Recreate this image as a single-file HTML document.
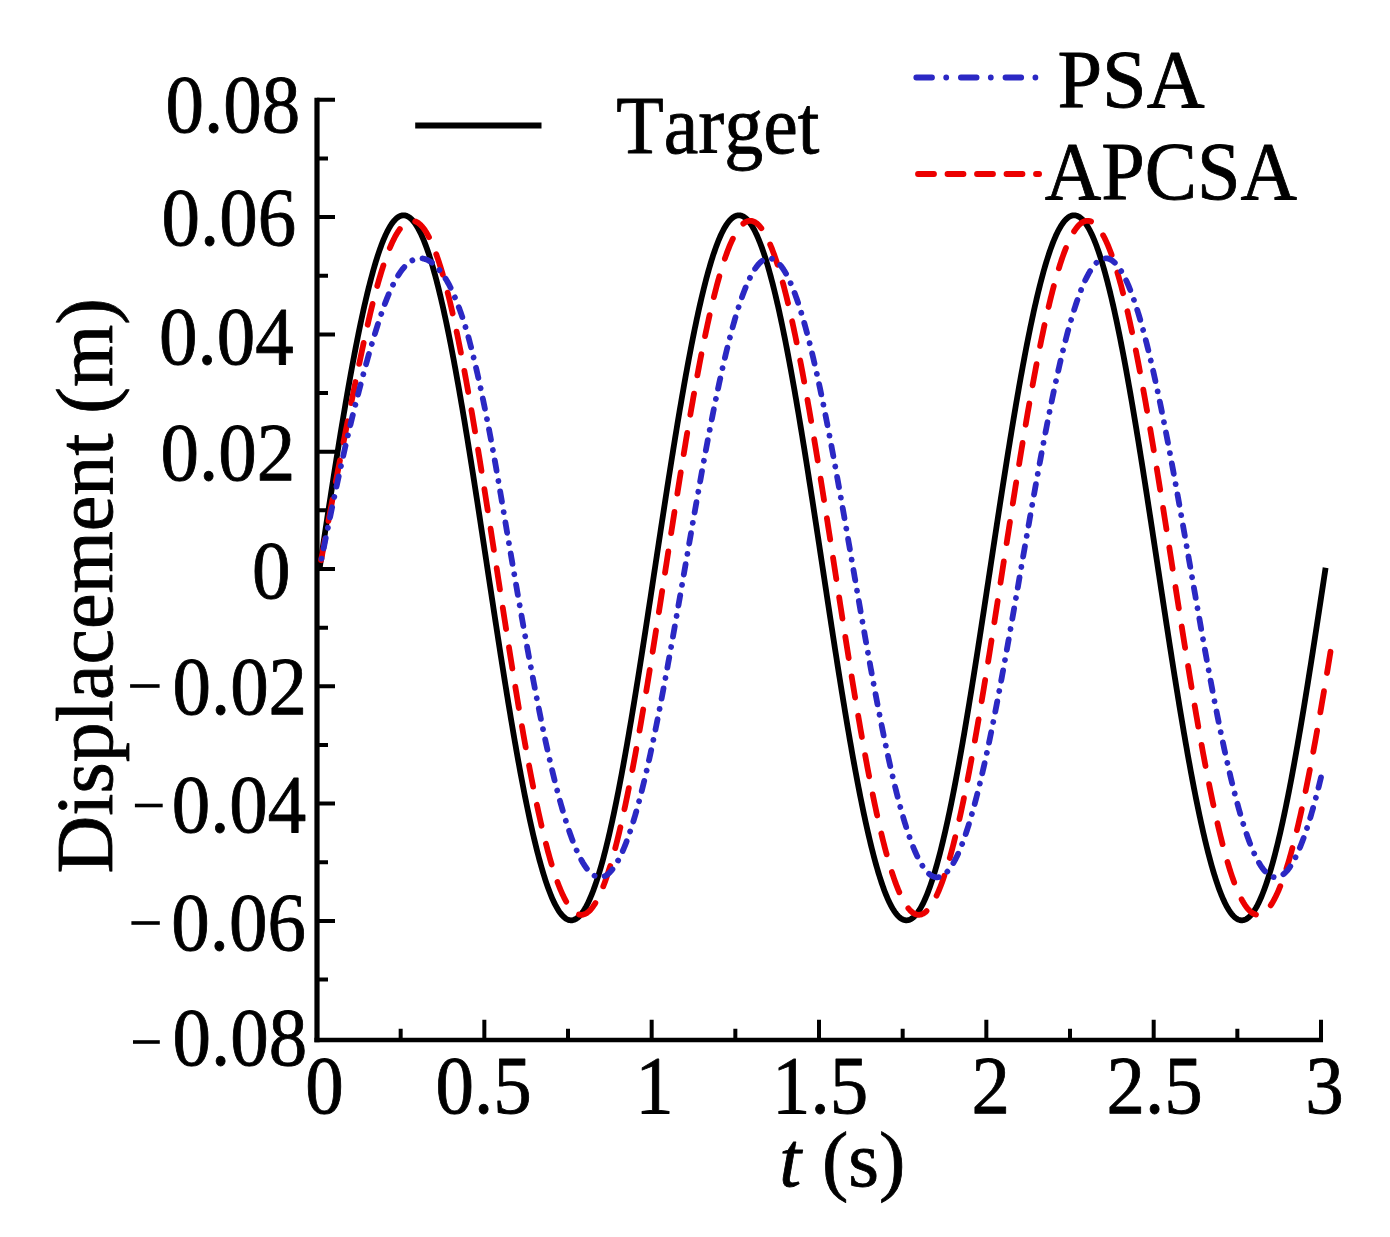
<!DOCTYPE html>
<html><head><meta charset="utf-8"><title>Displacement chart</title>
<style>
html,body{margin:0;padding:0;background:#fff;}
svg{display:block;}
#wrap{width:1390px;height:1237px;}
text{font-family:"Liberation Serif",serif;fill:#000;font-kerning:none;stroke:#000;stroke-width:0.8px;stroke-linejoin:round;}
</style></head><body>
<div id="wrap"><svg width="1390" height="1237" viewBox="0 0 1390 1237">
<rect width="1390" height="1237" fill="#fff"/>
<path d="M317.00,97.80 V1042.35" fill="none" stroke="#000" stroke-width="5.2"/>
<path d="M314.40,1040.10 H1323.01" fill="none" stroke="#000" stroke-width="4.5"/>
<path d="M317.00,99.80H335.00 M317.00,158.45H328.00 M317.00,217.10H335.00 M317.00,275.75H328.00 M317.00,334.40H335.00 M317.00,393.05H328.00 M317.00,451.70H335.00 M317.00,510.35H328.00 M317.00,569.00H335.00 M317.00,627.65H328.00 M317.00,686.30H335.00 M317.00,744.95H328.00 M317.00,803.60H335.00 M317.00,862.25H328.00 M317.00,920.90H335.00 M317.00,979.55H328.00 M400.67,1040.10V1028.75 M484.34,1040.10V1019.70 M568.00,1040.10V1028.75 M651.67,1040.10V1019.70 M735.34,1040.10V1028.75 M819.00,1040.10V1019.70 M902.67,1040.10V1028.75 M986.34,1040.10V1019.70 M1070.01,1040.10V1028.75 M1153.68,1040.10V1019.70 M1237.34,1040.10V1028.75 M1321.01,1040.10V1019.70" fill="none" stroke="#000" stroke-width="4.0"/>
<path d="M319.70,567.80L320.37,563.37 321.04,558.94 321.71,554.51 322.38,550.08 323.06,545.65 323.73,541.23 324.40,536.81 325.07,532.40 325.74,527.99 326.41,523.59 327.08,519.20 327.75,514.81 328.42,510.43 329.09,506.06 329.77,501.70 330.44,497.36 331.11,493.02 331.78,488.69 332.45,484.38 333.12,480.08 333.79,475.79 334.46,471.52 335.13,467.27 335.81,463.03 336.48,458.80 337.15,454.59 337.82,450.41 338.49,446.24 339.16,442.08 339.83,437.95 340.50,433.84 341.17,429.75 341.84,425.69 342.52,421.64 343.19,417.62 343.86,413.62 344.53,409.65 345.20,405.70 345.87,401.78 346.54,397.88 347.21,394.01 347.88,390.17 348.56,386.35 349.23,382.57 349.90,378.81 350.57,375.08 351.24,371.39 351.91,367.72 352.58,364.09 353.25,360.49 353.92,356.92 354.59,353.38 355.27,349.88 355.94,346.41 356.61,342.98 357.28,339.59 357.95,336.23 358.62,332.90 359.29,329.62 359.96,326.37 360.63,323.16 361.30,319.99 361.98,316.85 362.65,313.76 363.32,310.71 363.99,307.69 364.66,304.72 365.33,301.79 366.00,298.91 366.67,296.06 367.34,293.26 368.02,290.50 368.69,287.79 369.36,285.12 370.03,282.49 370.70,279.91 371.37,277.38 372.04,274.89 372.71,272.44 373.38,270.05 374.05,267.70 374.73,265.40 375.40,263.14 376.07,260.94 376.74,258.78 377.41,256.67 378.08,254.61 378.75,252.60 379.42,250.64 380.09,248.74 380.77,246.88 381.44,245.07 382.11,243.31 382.78,241.60 383.45,239.95 384.12,238.35 384.79,236.80 385.46,235.30 386.13,233.85 386.80,232.46 387.48,231.12 388.15,229.84 388.82,228.60 389.49,227.42 390.16,226.30 390.83,225.23 391.50,224.21 392.17,223.25 392.84,222.34 393.52,221.48 394.19,220.68 394.86,219.94 395.53,219.25 396.20,218.62 396.87,218.04 397.54,217.51 398.21,217.05 398.88,216.63 399.55,216.28 400.23,215.97 400.90,215.73 401.57,215.54 402.24,215.40 402.91,215.32 403.58,215.30 404.25,215.33 404.92,215.42 405.59,215.56 406.27,215.76 406.94,216.02 407.61,216.33 408.28,216.70 408.95,217.12 409.62,217.60 410.29,218.13 410.96,218.72 411.63,219.36 412.30,220.06 412.98,220.81 413.65,221.62 414.32,222.48 414.99,223.40 415.66,224.37 416.33,225.40 417.00,226.48 417.67,227.62 418.34,228.80 419.02,230.05 419.69,231.34 420.36,232.69 421.03,234.09 421.70,235.55 422.37,237.05 423.04,238.61 423.71,240.22 424.38,241.89 425.05,243.60 425.73,245.37 426.40,247.18 427.07,249.05 427.74,250.97 428.41,252.94 429.08,254.95 429.75,257.02 430.42,259.14 431.09,261.30 431.76,263.52 432.44,265.78 433.11,268.09 433.78,270.44 434.45,272.85 435.12,275.30 435.79,277.80 436.46,280.34 437.13,282.93 437.80,285.56 438.48,288.24 439.15,290.96 439.82,293.72 440.49,296.53 441.16,299.39 441.83,302.28 442.50,305.22 443.17,308.19 443.84,311.21 444.51,314.27 445.19,317.37 445.86,320.51 446.53,323.69 447.20,326.91 447.87,330.16 448.54,333.45 449.21,336.78 449.88,340.15 450.55,343.55 451.23,346.99 451.90,350.46 452.57,353.97 453.24,357.51 453.91,361.08 454.58,364.69 455.25,368.33 455.92,372.00 456.59,375.70 457.26,379.43 457.94,383.19 458.61,386.98 459.28,390.80 459.95,394.65 460.62,398.53 461.29,402.43 461.96,406.35 462.63,410.31 463.30,414.29 463.98,418.29 464.65,422.31 465.32,426.36 465.99,430.43 466.66,434.53 467.33,438.64 468.00,442.78 468.67,446.93 469.34,451.10 470.01,455.29 470.69,459.50 471.36,463.73 472.03,467.97 472.70,472.23 473.37,476.51 474.04,480.80 474.71,485.10 475.38,489.41 476.05,493.74 476.73,498.08 477.40,502.43 478.07,506.79 478.74,511.16 479.41,515.54 480.08,519.93 480.75,524.32 481.42,528.73 482.09,533.13 482.76,537.55 483.44,541.97 484.11,546.39 484.78,550.81 485.45,555.24 486.12,559.67 486.79,564.11 487.46,568.54 488.13,572.97 488.80,577.40 489.47,581.83 490.15,586.26 490.82,590.69 491.49,595.11 492.16,599.52 492.83,603.94 493.50,608.34 494.17,612.74 494.84,617.13 495.51,621.52 496.19,625.90 496.86,630.26 497.53,634.62 498.20,638.97 498.87,643.30 499.54,647.63 500.21,651.94 500.88,656.24 501.55,660.52 502.22,664.79 502.90,669.04 503.57,673.28 504.24,677.50 504.91,681.70 505.58,685.89 506.25,690.06 506.92,694.21 507.59,698.33 508.26,702.44 508.94,706.53 509.61,710.59 510.28,714.63 510.95,718.65 511.62,722.64 512.29,726.61 512.96,730.56 513.63,734.48 514.30,738.37 514.97,742.23 515.65,746.07 516.32,749.88 516.99,753.66 517.66,757.41 518.33,761.14 519.00,764.83 519.67,768.49 520.34,772.12 521.01,775.71 521.69,779.27 522.36,782.80 523.03,786.30 523.70,789.76 524.37,793.19 525.04,796.58 525.71,799.93 526.38,803.25 527.05,806.53 527.72,809.77 528.40,812.97 529.07,816.14 529.74,819.27 530.41,822.35 531.08,825.40 531.75,828.40 532.42,831.37 533.09,834.29 533.76,837.17 534.44,840.01 535.11,842.80 535.78,845.55 536.45,848.26 537.12,850.92 537.79,853.54 538.46,856.11 539.13,858.64 539.80,861.12 540.47,863.56 541.15,865.95 541.82,868.29 542.49,870.58 543.16,872.83 543.83,875.02 544.50,877.17 545.17,879.27 545.84,881.32 546.51,883.33 547.19,885.28 547.86,887.18 548.53,889.03 549.20,890.83 549.87,892.58 550.54,894.27 551.21,895.92 551.88,897.51 552.55,899.06 553.22,900.55 553.90,901.98 554.57,903.37 555.24,904.70 555.91,905.97 556.58,907.20 557.25,908.37 557.92,909.48 558.59,910.55 559.26,911.56 559.93,912.51 560.61,913.41 561.28,914.25 561.95,915.04 562.62,915.78 563.29,916.46 563.96,917.08 564.63,917.65 565.30,918.17 565.97,918.63 566.65,919.03 567.32,919.38 567.99,919.67 568.66,919.91 569.33,920.09 570.00,920.21 570.67,920.28 571.34,920.30 572.01,920.26 572.68,920.16 573.36,920.01 574.03,919.80 574.70,919.53 575.37,919.21 576.04,918.84 576.71,918.40 577.38,917.92 578.05,917.38 578.72,916.78 579.40,916.13 580.07,915.42 580.74,914.66 581.41,913.84 582.08,912.97 582.75,912.04 583.42,911.06 584.09,910.02 584.76,908.93 585.43,907.79 586.11,906.59 586.78,905.34 587.45,904.04 588.12,902.68 588.79,901.27 589.46,899.81 590.13,898.29 590.80,896.72 591.47,895.10 592.15,893.43 592.82,891.71 593.49,889.93 594.16,888.11 594.83,886.23 595.50,884.31 596.17,882.33 596.84,880.31 597.51,878.23 598.18,876.11 598.86,873.93 599.53,871.71 600.20,869.44 600.87,867.12 601.54,864.76 602.21,862.35 602.88,859.89 603.55,857.38 604.22,854.83 604.90,852.24 605.57,849.60 606.24,846.91 606.91,844.18 607.58,841.41 608.25,838.59 608.92,835.74 609.59,832.83 610.26,829.89 610.93,826.91 611.61,823.88 612.28,820.81 612.95,817.71 613.62,814.56 614.29,811.38 614.96,808.15 615.63,804.89 616.30,801.59 616.97,798.26 617.65,794.89 618.32,791.48 618.99,788.03 619.66,784.56 620.33,781.04 621.00,777.50 621.67,773.92 622.34,770.30 623.01,766.66 623.68,762.99 624.36,759.28 625.03,755.54 625.70,751.78 626.37,747.98 627.04,744.16 627.71,740.30 628.38,736.43 629.05,732.52 629.72,728.59 630.39,724.63 631.07,720.65 631.74,716.64 632.41,712.61 633.08,708.56 633.75,704.49 634.42,700.39 635.09,696.27 635.76,692.13 636.43,687.98 637.11,683.80 637.78,679.61 638.45,675.39 639.12,671.16 639.79,666.92 640.46,662.66 641.13,658.38 641.80,654.09 642.47,649.78 643.14,645.47 643.82,641.14 644.49,636.80 645.16,632.44 645.83,628.08 646.50,623.71 647.17,619.33 647.84,614.94 648.51,610.54 649.18,606.14 649.86,601.73 650.53,597.32 651.20,592.90 651.87,588.47 652.54,584.05 653.21,579.62 653.88,575.19 654.55,570.76 655.22,566.32 655.89,561.89 656.57,557.46 657.24,553.03 657.91,548.60 658.58,544.18 659.25,539.76 659.92,535.34 660.59,530.93 661.26,526.52 661.93,522.13 662.61,517.73 663.28,513.35 663.95,508.98 664.62,504.61 665.29,500.25 665.96,495.91 666.63,491.58 667.30,487.25 667.97,482.94 668.64,478.65 669.32,474.37 669.99,470.10 670.66,465.85 671.33,461.62 672.00,457.40 672.67,453.20 673.34,449.01 674.01,444.85 674.68,440.71 675.36,436.58 676.03,432.48 676.70,428.40 677.37,424.34 678.04,420.30 678.71,416.28 679.38,412.29 680.05,408.33 680.72,404.39 681.39,400.47 682.07,396.59 682.74,392.72 683.41,388.89 684.08,385.09 684.75,381.31 685.42,377.56 686.09,373.85 686.76,370.16 687.43,366.51 688.11,362.88 688.78,359.29 689.45,355.74 690.12,352.21 690.79,348.72 691.46,345.27 692.13,341.85 692.80,338.46 693.47,335.11 694.14,331.80 694.82,328.53 695.49,325.29 696.16,322.10 696.83,318.94 697.50,315.82 698.17,312.74 698.84,309.70 699.51,306.70 700.18,303.74 700.85,300.83 701.53,297.95 702.20,295.12 702.87,292.34 703.54,289.59 704.21,286.89 704.88,284.24 705.55,281.63 706.22,279.06 706.89,276.54 707.57,274.07 708.24,271.64 708.91,269.26 709.58,266.93 710.25,264.64 710.92,262.40 711.59,260.21 712.26,258.07 712.93,255.98 713.60,253.94 714.28,251.95 714.95,250.00 715.62,248.11 716.29,246.27 716.96,244.48 717.63,242.74 718.30,241.05 718.97,239.41 719.64,237.83 720.32,236.29 720.99,234.81 721.66,233.38 722.33,232.01 723.00,230.69 723.67,229.42 724.34,228.20 725.01,227.04 725.68,225.93 726.35,224.88 727.03,223.88 727.70,222.94 728.37,222.05 729.04,221.21 729.71,220.43 730.38,219.70 731.05,219.03 731.72,218.42 732.39,217.86 733.07,217.35 733.74,216.90 734.41,216.51 735.08,216.17 735.75,215.89 736.42,215.66 737.09,215.49 737.76,215.37 738.43,215.31 739.10,215.30 739.78,215.36 740.45,215.46 741.12,215.63 741.79,215.84 742.46,216.12 743.13,216.45 743.80,216.83 744.47,217.27 745.14,217.77 745.82,218.32 746.49,218.93 747.16,219.59 747.83,220.30 748.50,221.08 749.17,221.90 749.84,222.78 750.51,223.72 751.18,224.71 751.85,225.75 752.53,226.85 753.20,228.01 753.87,229.21 754.54,230.47 755.21,231.78 755.88,233.15 756.55,234.57 757.22,236.04 757.89,237.57 758.56,239.14 759.24,240.77 759.91,242.45 760.58,244.18 761.25,245.97 761.92,247.80 762.59,249.68 763.26,251.62 763.93,253.60 764.60,255.64 765.28,257.72 765.95,259.85 766.62,262.03 767.29,264.26 767.96,266.54 768.63,268.87 769.30,271.24 769.97,273.66 770.64,276.13 771.31,278.64 771.99,281.20 772.66,283.80 773.33,286.45 774.00,289.14 774.67,291.88 775.34,294.66 776.01,297.48 776.68,300.35 777.35,303.25 778.03,306.20 778.70,309.20 779.37,312.23 780.04,315.30 780.71,318.41 781.38,321.57 782.05,324.76 782.72,327.99 783.39,331.26 784.06,334.56 784.74,337.90 785.41,341.28 786.08,344.69 786.75,348.14 787.42,351.63 788.09,355.15 788.76,358.70 789.43,362.28 790.10,365.90 790.78,369.55 791.45,373.23 792.12,376.94 792.79,380.68 793.46,384.45 794.13,388.25 794.80,392.08 795.47,395.94 796.14,399.82 796.81,403.73 797.49,407.67 798.16,411.63 798.83,415.62 799.50,419.63 800.17,423.66 800.84,427.72 801.51,431.80 802.18,435.90 802.85,440.02 803.53,444.16 804.20,448.32 804.87,452.50 805.54,456.70 806.21,460.91 806.88,465.14 807.55,469.39 808.22,473.66 808.89,477.93 809.56,482.23 810.24,486.53 810.91,490.85 811.58,495.19 812.25,499.53 812.92,503.88 813.59,508.25 814.26,512.62 814.93,517.00 815.60,521.39 816.28,525.79 816.95,530.19 817.62,534.60 818.29,539.02 818.96,543.44 819.63,547.86 820.30,552.29 820.97,556.72 821.64,561.15 822.31,565.58 822.99,570.02 823.66,574.45 824.33,578.88 825.00,583.31 825.67,587.74 826.34,592.16 827.01,596.58 827.68,601.00 828.35,605.41 829.02,609.81 829.70,614.21 830.37,618.60 831.04,622.98 831.71,627.35 832.38,631.72 833.05,636.07 833.72,640.41 834.39,644.75 835.06,649.07 835.74,653.37 836.41,657.67 837.08,661.94 837.75,666.21 838.42,670.46 839.09,674.69 839.76,678.90 840.43,683.10 841.10,687.28 841.77,691.44 842.45,695.58 843.12,699.70 843.79,703.80 844.46,707.88 845.13,711.94 845.80,715.97 846.47,719.98 847.14,723.97 847.81,727.93 848.49,731.87 849.16,735.78 849.83,739.66 850.50,743.52 851.17,747.35 851.84,751.15 852.51,754.92 853.18,758.66 853.85,762.37 854.52,766.05 855.20,769.70 855.87,773.32 856.54,776.90 857.21,780.45 857.88,783.97 858.55,787.46 859.22,790.91 859.89,794.32 860.56,797.70 861.24,801.04 861.91,804.34 862.58,807.61 863.25,810.84 863.92,814.03 864.59,817.19 865.26,820.30 865.93,823.37 866.60,826.40 867.27,829.40 867.95,832.35 868.62,835.25 869.29,838.12 869.96,840.94 870.63,843.72 871.30,846.46 871.97,849.15 872.64,851.80 873.31,854.40 873.99,856.96 874.66,859.47 875.33,861.94 876.00,864.36 876.67,866.73 877.34,869.06 878.01,871.34 878.68,873.57 879.35,875.75 880.02,877.88 880.70,879.96 881.37,882.00 882.04,883.98 882.71,885.92 883.38,887.80 884.05,889.63 884.72,891.42 885.39,893.15 886.06,894.83 886.74,896.46 887.41,898.03 888.08,899.56 888.75,901.03 889.42,902.45 890.09,903.82 890.76,905.13 891.43,906.39 892.10,907.59 892.77,908.75 893.45,909.85 894.12,910.89 894.79,911.88 895.46,912.82 896.13,913.70 896.80,914.52 897.47,915.30 898.14,916.01 898.81,916.67 899.48,917.28 900.16,917.83 900.83,918.33 901.50,918.77 902.17,919.15 902.84,919.48 903.51,919.76 904.18,919.97 904.85,920.14 905.52,920.24 906.20,920.30 906.87,920.29 907.54,920.23 908.21,920.11 908.88,919.94 909.55,919.71 910.22,919.43 910.89,919.09 911.56,918.70 912.23,918.25 912.91,917.74 913.58,917.18 914.25,916.57 914.92,915.90 915.59,915.17 916.26,914.39 916.93,913.55 917.60,912.66 918.27,911.72 918.95,910.72 919.62,909.67 920.29,908.56 920.96,907.40 921.63,906.18 922.30,904.91 922.97,903.59 923.64,902.22 924.31,900.79 924.98,899.31 925.66,897.77 926.33,896.19 927.00,894.55 927.67,892.86 928.34,891.12 929.01,889.33 929.68,887.49 930.35,885.60 931.02,883.65 931.70,881.66 932.37,879.62 933.04,877.53 933.71,875.39 934.38,873.20 935.05,870.96 935.72,868.67 936.39,866.34 937.06,863.96 937.73,861.53 938.41,859.06 939.08,856.54 939.75,853.97 940.42,851.36 941.09,848.71 941.76,846.01 942.43,843.26 943.10,840.48 943.77,837.65 944.45,834.77 945.12,831.86 945.79,828.90 946.46,825.90 947.13,822.86 947.80,819.78 948.47,816.66 949.14,813.50 949.81,810.31 950.48,807.07 951.16,803.80 951.83,800.49 952.50,797.14 953.17,793.75 953.84,790.33 954.51,786.88 955.18,783.39 955.85,779.86 956.52,776.31 957.19,772.72 957.87,769.09 958.54,765.44 959.21,761.75 959.88,758.04 960.55,754.29 961.22,750.51 961.89,746.71 962.56,742.88 963.23,739.01 963.91,735.13 964.58,731.21 965.25,727.27 965.92,723.31 966.59,719.32 967.26,715.30 967.93,711.26 968.60,707.20 969.27,703.12 969.94,699.02 970.62,694.89 971.29,690.75 971.96,686.59 972.63,682.40 973.30,678.20 973.97,673.98 974.64,669.75 975.31,665.50 975.98,661.23 976.66,656.95 977.33,652.66 978.00,648.35 978.67,644.02 979.34,639.69 980.01,635.35 980.68,630.99 981.35,626.62 982.02,622.25 982.69,617.87 983.37,613.47 984.04,609.08 984.71,604.67 985.38,600.26 986.05,595.84 986.72,591.42 987.39,587.00 988.06,582.57 988.73,578.14 989.41,573.71 990.08,569.28 990.75,564.84 991.42,560.41 992.09,555.98 992.76,551.55 993.43,547.13 994.10,542.70 994.77,538.28 995.44,533.87 996.12,529.46 996.79,525.06 997.46,520.66 998.13,516.27 998.80,511.89 999.47,507.52 1000.14,503.16 1000.81,498.80 1001.48,494.46 1002.16,490.13 1002.83,485.82 1003.50,481.51 1004.17,477.22 1004.84,472.94 1005.51,468.68 1006.18,464.44 1006.85,460.21 1007.52,455.99 1008.19,451.80 1008.87,447.62 1009.54,443.47 1010.21,439.33 1010.88,435.21 1011.55,431.11 1012.22,427.04 1012.89,422.99 1013.56,418.96 1014.23,414.95 1014.91,410.97 1015.58,407.01 1016.25,403.08 1016.92,399.17 1017.59,395.30 1018.26,391.44 1018.93,387.62 1019.60,383.82 1020.27,380.06 1020.94,376.32 1021.62,372.61 1022.29,368.94 1022.96,365.30 1023.63,361.68 1024.30,358.10 1024.97,354.56 1025.64,351.04 1026.31,347.57 1026.98,344.12 1027.65,340.71 1028.33,337.34 1029.00,334.01 1029.67,330.71 1030.34,327.45 1031.01,324.22 1031.68,321.04 1032.35,317.89 1033.02,314.79 1033.69,311.72 1034.37,308.69 1035.04,305.71 1035.71,302.77 1036.38,299.86 1037.05,297.01 1037.72,294.19 1038.39,291.42 1039.06,288.69 1039.73,286.00 1040.40,283.36 1041.08,280.77 1041.75,278.22 1042.42,275.71 1043.09,273.25 1043.76,270.84 1044.43,268.48 1045.10,266.16 1045.77,263.89 1046.44,261.67 1047.12,259.49 1047.79,257.37 1048.46,255.29 1049.13,253.27 1049.80,251.29 1050.47,249.37 1051.14,247.49 1051.81,245.67 1052.48,243.89 1053.15,242.17 1053.83,240.50 1054.50,238.88 1055.17,237.31 1055.84,235.79 1056.51,234.33 1057.18,232.92 1057.85,231.56 1058.52,230.26 1059.19,229.01 1059.87,227.81 1060.54,226.67 1061.21,225.58 1061.88,224.54 1062.55,223.56 1063.22,222.63 1063.89,221.76 1064.56,220.94 1065.23,220.18 1065.90,219.47 1066.58,218.82 1067.25,218.22 1067.92,217.68 1068.59,217.20 1069.26,216.76 1069.93,216.39 1070.60,216.07 1071.27,215.80 1071.94,215.59 1072.62,215.44 1073.29,215.34 1073.96,215.30 1074.63,215.32 1075.30,215.39 1075.97,215.51 1076.64,215.69 1077.31,215.93 1077.98,216.22 1078.65,216.57 1079.33,216.97 1080.00,217.43 1080.67,217.95 1081.34,218.52 1082.01,219.14 1082.68,219.82 1083.35,220.56 1084.02,221.35 1084.69,222.19 1085.37,223.09 1086.04,224.04 1086.71,225.05 1087.38,226.12 1088.05,227.23 1088.72,228.40 1089.39,229.63 1090.06,230.90 1090.73,232.23 1091.40,233.62 1092.08,235.05 1092.75,236.54 1093.42,238.09 1094.09,239.68 1094.76,241.33 1095.43,243.02 1096.10,244.77 1096.77,246.57 1097.44,248.42 1098.11,250.32 1098.79,252.27 1099.46,254.28 1100.13,256.33 1100.80,258.43 1101.47,260.58 1102.14,262.77 1102.81,265.02 1103.48,267.31 1104.15,269.65 1104.83,272.04 1105.50,274.48 1106.17,276.96 1106.84,279.49 1107.51,282.06 1108.18,284.68 1108.85,287.34 1109.52,290.05 1110.19,292.80 1110.86,295.59 1111.54,298.43 1112.21,301.31 1112.88,304.23 1113.55,307.20 1114.22,310.20 1114.89,313.25 1115.56,316.33 1116.23,319.46 1116.90,322.63 1117.58,325.83 1118.25,329.07 1118.92,332.35 1119.59,335.67 1120.26,339.02 1120.93,342.41 1121.60,345.84 1122.27,349.30 1122.94,352.80 1123.61,356.33 1124.29,359.89 1124.96,363.48 1125.63,367.11 1126.30,370.77 1126.97,374.46 1127.64,378.19 1128.31,381.94 1128.98,385.72 1129.65,389.53 1130.33,393.37 1131.00,397.23 1131.67,401.12 1132.34,405.04 1133.01,408.99 1133.68,412.96 1134.35,416.95 1135.02,420.97 1135.69,425.01 1136.36,429.07 1137.04,433.16 1137.71,437.27 1138.38,441.39 1139.05,445.54 1139.72,449.71 1140.39,453.90 1141.06,458.10 1141.73,462.32 1142.40,466.56 1143.08,470.81 1143.75,475.08 1144.42,479.36 1145.09,483.66 1145.76,487.97 1146.43,492.30 1147.10,496.63 1147.77,500.98 1148.44,505.34 1149.11,509.70 1149.79,514.08 1150.46,518.47 1151.13,522.86 1151.80,527.26 1152.47,531.66 1153.14,536.08 1153.81,540.49 1154.48,544.91 1155.15,549.34 1155.83,553.77 1156.50,558.20 1157.17,562.63 1157.84,567.06 1158.51,571.49 1159.18,575.93 1159.85,580.36 1160.52,584.79 1161.19,589.21 1161.86,593.63 1162.54,598.05 1163.21,602.47 1163.88,606.87 1164.55,611.28 1165.22,615.67 1165.89,620.06 1166.56,624.44 1167.23,628.81 1167.90,633.17 1168.57,637.52 1169.25,641.86 1169.92,646.19 1170.59,650.50 1171.26,654.80 1171.93,659.09 1172.60,663.37 1173.27,667.63 1173.94,671.87 1174.61,676.10 1175.29,680.31 1175.96,684.50 1176.63,688.67 1177.30,692.82 1177.97,696.96 1178.64,701.07 1179.31,705.17 1179.98,709.24 1180.65,713.29 1181.32,717.31 1182.00,721.31 1182.67,725.29 1183.34,729.25 1184.01,733.17 1184.68,737.07 1185.35,740.95 1186.02,744.80 1186.69,748.62 1187.36,752.41 1188.04,756.17 1188.71,759.90 1189.38,763.60 1190.05,767.27 1190.72,770.91 1191.39,774.52 1192.06,778.09 1192.73,781.63 1193.40,785.14 1194.07,788.61 1194.75,792.05 1195.42,795.45 1196.09,798.82 1196.76,802.15 1197.43,805.44 1198.10,808.69 1198.77,811.91 1199.44,815.09 1200.11,818.23 1200.79,821.33 1201.46,824.39 1202.13,827.41 1202.80,830.38 1203.47,833.32 1204.14,836.21 1204.81,839.07 1205.48,841.88 1206.15,844.64 1206.82,847.36 1207.50,850.04 1208.17,852.67 1208.84,855.26 1209.51,857.80 1210.18,860.30 1210.85,862.75 1211.52,865.16 1212.19,867.51 1212.86,869.82 1213.54,872.08 1214.21,874.30 1214.88,876.46 1215.55,878.58 1216.22,880.65 1216.89,882.66 1217.56,884.63 1218.23,886.55 1218.90,888.42 1219.57,890.23 1220.25,892.00 1220.92,893.71 1221.59,895.38 1222.26,896.99 1222.93,898.55 1223.60,900.05 1224.27,901.51 1224.94,902.91 1225.61,904.26 1226.28,905.55 1226.96,906.80 1227.63,907.98 1228.30,909.12 1228.97,910.20 1229.64,911.23 1230.31,912.20 1230.98,913.12 1231.65,913.98 1232.32,914.79 1233.00,915.54 1233.67,916.24 1234.34,916.88 1235.01,917.47 1235.68,918.00 1236.35,918.48 1237.02,918.90 1237.69,919.27 1238.36,919.58 1239.03,919.84 1239.71,920.04 1240.38,920.18 1241.05,920.27 1241.72,920.30 1242.39,920.28 1243.06,920.20 1243.73,920.06 1244.40,919.87 1245.07,919.63 1245.75,919.32 1246.42,918.97 1247.09,918.55 1247.76,918.09 1248.43,917.56 1249.10,916.98 1249.77,916.35 1250.44,915.66 1251.11,914.92 1251.78,914.12 1252.46,913.26 1253.13,912.35 1253.80,911.39 1254.47,910.37 1255.14,909.30 1255.81,908.18 1256.48,907.00 1257.15,905.76 1257.82,904.48 1258.50,903.14 1259.17,901.75 1259.84,900.30 1260.51,898.80 1261.18,897.25 1261.85,895.65 1262.52,894.00 1263.19,892.29 1263.86,890.53 1264.53,888.72 1265.21,886.86 1265.88,884.96 1266.55,883.00 1267.22,880.99 1267.89,878.93 1268.56,876.82 1269.23,874.66 1269.90,872.46 1270.57,870.20 1271.25,867.90 1271.92,865.55 1272.59,863.16 1273.26,860.71 1273.93,858.22 1274.60,855.69 1275.27,853.11 1275.94,850.48 1276.61,847.81 1277.28,845.10 1277.96,842.34 1278.63,839.54 1279.30,836.69 1279.97,833.81 1280.64,830.88 1281.31,827.91 1281.98,824.89 1282.65,821.84 1283.32,818.75 1284.00,815.61 1284.67,812.44 1285.34,809.23 1286.01,805.98 1286.68,802.70 1287.35,799.37 1288.02,796.01 1288.69,792.62 1289.36,789.19 1290.03,785.72 1290.71,782.22 1291.38,778.68 1292.05,775.11 1292.72,771.51 1293.39,767.88 1294.06,764.21 1294.73,760.52 1295.40,756.79 1296.07,753.03 1296.74,749.25 1297.42,745.43 1298.09,741.59 1298.76,737.72 1299.43,733.82 1300.10,729.90 1300.77,725.95 1301.44,721.98 1302.11,717.98 1302.78,713.96 1303.46,709.91 1304.13,705.85 1304.80,701.76 1305.47,697.65 1306.14,693.52 1306.81,689.36 1307.48,685.19 1308.15,681.01 1308.82,676.80 1309.49,672.57 1310.17,668.33 1310.84,664.08 1311.51,659.81 1312.18,655.52 1312.85,651.22 1313.52,646.91 1314.19,642.58 1314.86,638.24 1315.53,633.90 1316.21,629.54 1316.88,625.17 1317.55,620.79 1318.22,616.40 1318.89,612.01 1319.56,607.61 1320.23,603.20 1320.90,598.79 1321.57,594.37 1322.24,589.95 1322.92,585.52 1323.59,581.09 1324.26,576.66 1324.93,572.23 1325.60,567.80" fill="none" stroke="#000" stroke-width="5.8" stroke-linejoin="round"/>
<path d="M1330.50,651.76L1329.83,655.89 1329.15,660.01 1328.48,664.12 1327.80,668.21 1327.13,672.29 1326.45,676.35 1325.78,680.39 1325.11,684.42 1324.43,688.43 1323.76,692.43 1323.08,696.40 1322.41,700.35 1321.73,704.29 1321.06,708.20 1320.39,712.10 1319.71,715.97 1319.04,719.82 1318.36,723.64 1317.69,727.45 1317.01,731.23 1316.34,734.98 1315.67,738.71 1314.99,742.41 1314.32,746.09 1313.64,749.74 1312.97,753.37 1312.29,756.96 1311.62,760.53 1310.94,764.06 1310.27,767.57 1309.60,771.05 1308.92,774.50 1308.25,777.91 1307.57,781.30 1306.90,784.65 1306.22,787.97 1305.55,791.26 1304.88,794.51 1304.20,797.73 1303.53,800.91 1302.85,804.06 1302.18,807.17 1301.50,810.25 1300.83,813.29 1300.16,816.29 1299.48,819.26 1298.81,822.18 1298.13,825.07 1297.46,827.92 1296.78,830.73 1296.11,833.50 1295.44,836.23 1294.76,838.92 1294.09,841.57 1293.41,844.18 1292.74,846.74 1292.06,849.27 1291.39,851.75 1290.72,854.19 1290.04,856.58 1289.37,858.93 1288.69,861.24 1288.02,863.50 1287.34,865.71 1286.67,867.89 1286.00,870.01 1285.32,872.09 1284.65,874.13 1283.97,876.11 1283.30,878.05 1282.62,879.95 1281.95,881.79 1281.27,883.59 1280.60,885.34 1279.93,887.05 1279.25,888.70 1278.58,890.30 1277.90,891.86 1277.23,893.37 1276.55,894.82 1275.88,896.23 1275.21,897.59 1274.53,898.90 1273.86,900.15 1273.18,901.36 1272.51,902.51 1271.83,903.62 1271.16,904.67 1270.49,905.67 1269.81,906.62 1269.14,907.52 1268.46,908.37 1267.79,909.17 1267.11,909.91 1266.44,910.60 1265.77,911.24 1265.09,911.83 1264.42,912.36 1263.74,912.84 1263.07,913.27 1262.39,913.65 1261.72,913.97 1261.05,914.24 1260.37,914.46 1259.70,914.62 1259.02,914.73 1258.35,914.79 1257.67,914.80 1257.00,914.75 1256.33,914.65 1255.65,914.49 1254.98,914.29 1254.30,914.03 1253.63,913.71 1252.95,913.35 1252.28,912.93 1251.61,912.46 1250.93,911.93 1250.26,911.36 1249.58,910.73 1248.91,910.04 1248.23,909.31 1247.56,908.52 1246.88,907.68 1246.21,906.79 1245.54,905.85 1244.86,904.86 1244.19,903.81 1243.51,902.71 1242.84,901.56 1242.16,900.36 1241.49,899.11 1240.82,897.81 1240.14,896.45 1239.47,895.05 1238.79,893.60 1238.12,892.09 1237.44,890.54 1236.77,888.94 1236.10,887.29 1235.42,885.59 1234.75,883.84 1234.07,882.04 1233.40,880.19 1232.72,878.30 1232.05,876.36 1231.38,874.37 1230.70,872.33 1230.03,870.25 1229.35,868.12 1228.68,865.94 1228.00,863.72 1227.33,861.45 1226.66,859.14 1225.98,856.78 1225.31,854.38 1224.63,851.94 1223.96,849.45 1223.28,846.91 1222.61,844.34 1221.94,841.72 1221.26,839.06 1220.59,836.36 1219.91,833.62 1219.24,830.83 1218.56,828.01 1217.89,825.14 1217.21,822.24 1216.54,819.30 1215.87,816.31 1215.19,813.29 1214.52,810.24 1213.84,807.14 1213.17,804.01 1212.49,800.84 1211.82,797.63 1211.15,794.39 1210.47,791.12 1209.80,787.81 1209.12,784.47 1208.45,781.09 1207.77,777.68 1207.10,774.24 1206.43,770.76 1205.75,767.26 1205.08,763.72 1204.40,760.15 1203.73,756.56 1203.05,752.93 1202.38,749.28 1201.71,745.60 1201.03,741.89 1200.36,738.15 1199.68,734.39 1199.01,730.60 1198.33,726.78 1197.66,722.94 1196.99,719.08 1196.31,715.19 1195.64,711.29 1194.96,707.35 1194.29,703.40 1193.61,699.43 1192.94,695.43 1192.27,691.42 1191.59,687.38 1190.92,683.33 1190.24,679.26 1189.57,675.17 1188.89,671.07 1188.22,666.95 1187.54,662.81 1186.87,658.66 1186.20,654.49 1185.52,650.31 1184.85,646.12 1184.17,641.92 1183.50,637.70 1182.82,633.48 1182.15,629.24 1181.48,624.99 1180.80,620.74 1180.13,616.47 1179.45,612.20 1178.78,607.92 1178.10,603.63 1177.43,599.34 1176.76,595.05 1176.08,590.75 1175.41,586.44 1174.73,582.13 1174.06,577.82 1173.38,573.51 1172.71,569.20 1172.04,564.88 1171.36,560.57 1170.69,556.26 1170.01,551.95 1169.34,547.64 1168.66,543.33 1167.99,539.03 1167.32,534.73 1166.64,530.44 1165.97,526.15 1165.29,521.87 1164.62,517.59 1163.94,513.33 1163.27,509.07 1162.60,504.82 1161.92,500.57 1161.25,496.34 1160.57,492.12 1159.90,487.92 1159.22,483.72 1158.55,479.54 1157.88,475.36 1157.20,471.21 1156.53,467.07 1155.85,462.94 1155.18,458.83 1154.50,454.74 1153.83,450.66 1153.15,446.60 1152.48,442.56 1151.81,438.54 1151.13,434.54 1150.46,430.56 1149.78,426.60 1149.11,422.66 1148.43,418.75 1147.76,414.86 1147.09,410.99 1146.41,407.14 1145.74,403.33 1145.06,399.53 1144.39,395.76 1143.71,392.02 1143.04,388.31 1142.37,384.63 1141.69,380.97 1141.02,377.34 1140.34,373.74 1139.67,370.17 1138.99,366.64 1138.32,363.13 1137.65,359.66 1136.97,356.21 1136.30,352.80 1135.62,349.43 1134.95,346.08 1134.27,342.78 1133.60,339.50 1132.93,336.27 1132.25,333.06 1131.58,329.90 1130.90,326.77 1130.23,323.68 1129.55,320.63 1128.88,317.61 1128.21,314.64 1127.53,311.70 1126.86,308.80 1126.18,305.95 1125.51,303.13 1124.83,300.35 1124.16,297.62 1123.48,294.93 1122.81,292.28 1122.14,289.67 1121.46,287.11 1120.79,284.59 1120.11,282.11 1119.44,279.68 1118.76,277.29 1118.09,274.95 1117.42,272.65 1116.74,270.40 1116.07,268.20 1115.39,266.04 1114.72,263.93 1114.04,261.87 1113.37,259.85 1112.70,257.88 1112.02,255.96 1111.35,254.09 1110.67,252.26 1110.00,250.49 1109.32,248.76 1108.65,247.09 1107.98,245.46 1107.30,243.88 1106.63,242.36 1105.95,240.88 1105.28,239.46 1104.60,238.08 1103.93,236.76 1103.26,235.49 1102.58,234.27 1101.91,233.10 1101.23,231.99 1100.56,230.93 1099.88,229.91 1099.21,228.96 1098.54,228.05 1097.86,227.20 1097.19,226.40 1096.51,225.65 1095.84,224.95 1095.16,224.31 1094.49,223.73 1093.82,223.19 1093.14,222.71 1092.47,222.28 1091.79,221.91 1091.12,221.59 1090.44,221.33 1089.77,221.12 1089.09,220.96 1088.42,220.85 1087.75,220.80 1087.07,220.81 1086.40,220.87 1085.72,220.98 1085.05,221.15 1084.37,221.37 1083.70,221.64 1083.03,221.97 1082.35,222.35 1081.68,222.79 1081.00,223.28 1080.33,223.82 1079.65,224.42 1078.98,225.07 1078.31,225.77 1077.63,226.53 1076.96,227.34 1076.28,228.20 1075.61,229.11 1074.93,230.08 1074.26,231.11 1073.59,232.18 1072.91,233.31 1072.24,234.48 1071.56,235.71 1070.89,237.00 1070.21,238.33 1069.54,239.72 1068.87,241.15 1068.19,242.64 1067.52,244.18 1066.84,245.77 1066.17,247.41 1065.49,249.10 1064.82,250.83 1064.15,252.62 1063.47,254.46 1062.80,256.35 1062.12,258.28 1061.45,260.27 1060.77,262.30 1060.10,264.38 1059.42,266.51 1058.75,268.68 1058.08,270.90 1057.40,273.17 1056.73,275.48 1056.05,277.84 1055.38,280.25 1054.70,282.70 1054.03,285.19 1053.36,287.73 1052.68,290.32 1052.01,292.94 1051.33,295.61 1050.66,298.32 1049.98,301.08 1049.31,303.87 1048.64,306.71 1047.96,309.59 1047.29,312.51 1046.61,315.47 1045.94,318.47 1045.26,321.51 1044.59,324.59 1043.92,327.70 1043.24,330.85 1042.57,334.04 1041.89,337.27 1041.22,340.53 1040.54,343.83 1039.87,347.17 1039.20,350.54 1038.52,353.94 1037.85,357.38 1037.17,360.85 1036.50,364.35 1035.82,367.89 1035.15,371.45 1034.48,375.05 1033.80,378.68 1033.13,382.34 1032.45,386.03 1031.78,389.74 1031.10,393.49 1030.43,397.26 1029.75,401.06 1029.08,404.88 1028.41,408.74 1027.73,412.61 1027.06,416.51 1026.38,420.44 1025.71,424.39 1025.03,428.36 1024.36,432.35 1023.69,436.37 1023.01,440.40 1022.34,444.46 1021.66,448.54 1020.99,452.63 1020.31,456.75 1019.64,460.88 1018.97,465.03 1018.29,469.19 1017.62,473.37 1016.94,477.57 1016.27,481.78 1015.59,486.00 1014.92,490.24 1014.25,494.49 1013.57,498.75 1012.90,503.03 1012.22,507.31 1011.55,511.60 1010.87,515.91 1010.20,520.22 1009.53,524.54 1008.85,528.86 1008.18,533.20 1007.50,537.53 1006.83,541.88 1006.15,546.23 1005.48,550.58 1004.81,554.93 1004.13,559.29 1003.46,563.65 1002.78,568.01 1002.11,572.37 1001.43,576.73 1000.76,581.09 1000.09,585.45 999.41,589.80 998.74,594.16 998.06,598.50 997.39,602.85 996.71,607.18 996.04,611.52 995.36,615.84 994.69,620.16 994.02,624.47 993.34,628.77 992.67,633.06 991.99,637.34 991.32,641.61 990.64,645.87 989.97,650.12 989.30,654.35 988.62,658.57 987.95,662.78 987.27,666.97 986.60,671.14 985.92,675.30 985.25,679.44 984.58,683.57 983.90,687.67 983.23,691.76 982.55,695.83 981.88,699.88 981.20,703.91 980.53,707.91 979.86,711.90 979.18,715.86 978.51,719.80 977.83,723.71 977.16,727.60 976.48,731.46 975.81,735.30 975.14,739.11 974.46,742.90 973.79,746.66 973.11,750.38 972.44,754.08 971.76,757.76 971.09,761.40 970.42,765.01 969.74,768.59 969.07,772.13 968.39,775.65 967.72,779.13 967.04,782.58 966.37,785.99 965.69,789.37 965.02,792.72 964.35,796.03 963.67,799.30 963.00,802.54 962.32,805.74 961.65,808.90 960.97,812.02 960.30,815.11 959.63,818.16 958.95,821.16 958.28,824.13 957.60,827.05 956.93,829.94 956.25,832.78 955.58,835.58 954.91,838.34 954.23,841.06 953.56,843.73 952.88,846.36 952.21,848.94 951.53,851.48 950.86,853.98 950.19,856.43 949.51,858.83 948.84,861.19 948.16,863.50 947.49,865.76 946.81,867.98 946.14,870.15 945.47,872.27 944.79,874.34 944.12,876.37 943.44,878.34 942.77,880.27 942.09,882.15 941.42,883.97 940.75,885.75 940.07,887.48 939.40,889.15 938.72,890.78 938.05,892.35 937.37,893.87 936.70,895.34 936.03,896.76 935.35,898.12 934.68,899.44 934.00,900.70 933.33,901.90 932.65,903.06 931.98,904.16 931.30,905.21 930.63,906.20 929.96,907.14 929.28,908.03 928.61,908.86 927.93,909.64 927.26,910.36 926.58,911.03 925.91,911.65 925.24,912.21 924.56,912.72 923.89,913.17 923.21,913.56 922.54,913.91 921.86,914.19 921.19,914.42 920.52,914.60 919.84,914.72 919.17,914.79 918.49,914.80 917.82,914.75 917.14,914.65 916.47,914.50 915.80,914.29 915.12,914.03 914.45,913.71 913.77,913.33 913.10,912.90 912.42,912.42 911.75,911.88 911.08,911.29 910.40,910.64 909.73,909.94 909.05,909.18 908.38,908.37 907.70,907.50 907.03,906.58 906.36,905.61 905.68,904.58 905.01,903.50 904.33,902.37 903.66,901.19 902.98,899.95 902.31,898.65 901.63,897.31 900.96,895.91 900.29,894.46 899.61,892.96 898.94,891.41 898.26,889.81 897.59,888.15 896.91,886.45 896.24,884.69 895.57,882.88 894.89,881.03 894.22,879.12 893.54,877.16 892.87,875.16 892.19,873.10 891.52,871.00 890.85,868.85 890.17,866.65 889.50,864.41 888.82,862.12 888.15,859.78 887.47,857.39 886.80,854.96 886.13,852.48 885.45,849.96 884.78,847.40 884.10,844.78 883.43,842.13 882.75,839.43 882.08,836.69 881.41,833.91 880.73,831.08 880.06,828.21 879.38,825.30 878.71,822.35 878.03,819.36 877.36,816.33 876.69,813.26 876.01,810.15 875.34,807.01 874.66,803.82 873.99,800.60 873.31,797.34 872.64,794.05 871.96,790.71 871.29,787.35 870.62,783.95 869.94,780.51 869.27,777.04 868.59,773.54 867.92,770.01 867.24,766.44 866.57,762.84 865.90,759.21 865.22,755.56 864.55,751.87 863.87,748.15 863.20,744.40 862.52,740.63 861.85,736.83 861.18,733.00 860.50,729.15 859.83,725.27 859.15,721.36 858.48,717.44 857.80,713.48 857.13,709.51 856.46,705.51 855.78,701.49 855.11,697.45 854.43,693.39 853.76,689.31 853.08,685.21 852.41,681.10 851.74,676.96 851.06,672.81 850.39,668.64 849.71,664.46 849.04,660.26 848.36,656.04 847.69,651.81 847.02,647.57 846.34,643.32 845.67,639.05 844.99,634.78 844.32,630.49 843.64,626.19 842.97,621.89 842.30,617.57 841.62,613.25 840.95,608.92 840.27,604.59 839.60,600.25 838.92,595.90 838.25,591.55 837.57,587.20 836.90,582.84 836.23,578.48 835.55,574.12 834.88,569.76 834.20,565.40 833.53,561.03 832.85,556.67 832.18,552.32 831.51,547.96 830.83,543.61 830.16,539.26 829.48,534.92 828.81,530.58 828.13,526.25 827.46,521.92 826.79,517.60 826.11,513.29 825.44,508.99 824.76,504.70 824.09,500.42 823.41,496.15 822.74,491.89 822.07,487.64 821.39,483.41 820.72,479.18 820.04,474.98 819.37,470.78 818.69,466.61 818.02,462.45 817.35,458.30 816.67,454.18 816.00,450.07 815.32,445.98 814.65,441.91 813.97,437.85 813.30,433.82 812.63,429.82 811.95,425.83 811.28,421.86 810.60,417.92 809.93,414.00 809.25,410.11 808.58,406.24 807.90,402.40 807.23,398.58 806.56,394.79 805.88,391.03 805.21,387.29 804.53,383.59 803.86,379.91 803.18,376.26 802.51,372.65 801.84,369.06 801.16,365.51 800.49,361.98 799.81,358.49 799.14,355.03 798.46,351.61 797.79,348.22 797.12,344.87 796.44,341.55 795.77,338.26 795.09,335.01 794.42,331.80 793.74,328.63 793.07,325.49 792.40,322.39 791.72,319.33 791.05,316.31 790.37,313.33 789.70,310.39 789.02,307.49 788.35,304.63 787.68,301.82 787.00,299.04 786.33,296.31 785.65,293.62 784.98,290.97 784.30,288.37 783.63,285.81 782.96,283.29 782.28,280.82 781.61,278.40 780.93,276.02 780.26,273.69 779.58,271.40 778.91,269.16 778.24,266.97 777.56,264.82 776.89,262.72 776.21,260.67 775.54,258.67 774.86,256.72 774.19,254.81 773.51,252.96 772.84,251.15 772.17,249.40 771.49,247.69 770.82,246.04 770.14,244.43 769.47,242.88 768.79,241.38 768.12,239.93 767.45,238.53 766.77,237.18 766.10,235.88 765.42,234.64 764.75,233.45 764.07,232.31 763.40,231.23 762.73,230.19 762.05,229.21 761.38,228.29 760.70,227.42 760.03,226.60 759.35,225.83 758.68,225.12 758.01,224.46 757.33,223.86 756.66,223.31 755.98,222.81 755.31,222.37 754.63,221.99 753.96,221.65 753.29,221.38 752.61,221.15 751.94,220.98 751.26,220.87 750.59,220.81 749.91,220.80 749.24,220.85 748.57,220.96 747.89,221.12 747.22,221.33 746.54,221.60 745.87,221.92 745.19,222.30 744.52,222.73 743.84,223.21 743.17,223.75 742.50,224.35 741.82,224.99 741.15,225.69 740.47,226.45 739.80,227.26 739.12,228.12 738.45,229.04 737.78,230.01 737.10,231.03 736.43,232.10 735.75,233.23 735.08,234.41 734.40,235.65 733.73,236.93 733.06,238.27 732.38,239.66 731.71,241.10 731.03,242.59 730.36,244.14 729.68,245.73 729.01,247.38 728.34,249.07 727.66,250.82 726.99,252.61 726.31,254.46 725.64,256.35 724.96,258.30 724.29,260.29 723.62,262.33 722.94,264.42 722.27,266.56 721.59,268.74 720.92,270.97 720.24,273.25 719.57,275.57 718.90,277.95 718.22,280.36 717.55,282.82 716.87,285.33 716.20,287.88 715.52,290.47 714.85,293.11 714.17,295.79 713.50,298.52 712.83,301.28 712.15,304.09 711.48,306.94 710.80,309.84 710.13,312.77 709.45,315.74 708.78,318.75 708.11,321.80 707.43,324.89 706.76,328.02 706.08,331.19 705.41,334.39 704.73,337.63 704.06,340.91 703.39,344.22 702.71,347.57 702.04,350.95 701.36,354.37 700.69,357.82 700.01,361.30 699.34,364.82 698.67,368.36 697.99,371.94 697.32,375.55 696.64,379.19 695.97,382.86 695.29,386.56 694.62,390.29 693.95,394.05 693.27,397.83 692.60,401.64 691.92,405.48 691.25,409.34 690.57,413.23 689.90,417.14 689.23,421.08 688.55,425.04 687.88,429.02 687.20,433.02 686.53,437.05 685.85,441.09 685.18,445.16 684.51,449.24 683.83,453.35 683.16,457.47 682.48,461.61 681.81,465.76 681.13,469.93 680.46,474.12 679.78,478.32 679.11,482.54 678.44,486.77 677.76,491.01 677.09,495.27 676.41,499.53 675.74,503.81 675.06,508.10 674.39,512.40 673.72,516.70 673.04,521.01 672.37,525.33 671.69,529.66 671.02,534.00 670.34,538.33 669.67,542.68 669.00,547.03 668.32,551.38 667.65,555.73 666.97,560.09 666.30,564.44 665.62,568.80 664.95,573.16 664.28,577.51 663.60,581.87 662.93,586.22 662.25,590.57 661.58,594.91 660.90,599.25 660.23,603.59 659.56,607.92 658.88,612.25 658.21,616.56 657.53,620.87 656.86,625.17 656.18,629.47 655.51,633.75 654.84,638.02 654.16,642.28 653.49,646.53 652.81,650.77 652.14,654.99 651.46,659.20 650.79,663.39 650.11,667.57 649.44,671.74 648.77,675.88 648.09,680.02 647.42,684.13 646.74,688.22 646.07,692.30 645.39,696.35 644.72,700.39 644.05,704.40 643.37,708.40 642.70,712.37 642.02,716.31 641.35,720.24 640.67,724.14 640.00,728.01 639.33,731.86 638.65,735.69 637.98,739.49 637.30,743.26 636.63,747.00 635.95,750.71 635.28,754.40 634.61,758.06 633.93,761.68 633.26,765.28 632.58,768.84 631.91,772.37 631.23,775.87 630.56,779.34 629.89,782.78 629.21,786.18 628.54,789.54 627.86,792.87 627.19,796.17 626.51,799.43 625.84,802.65 625.17,805.83 624.49,808.98 623.82,812.09 623.14,815.16 622.47,818.20 621.79,821.19 621.12,824.14 620.45,827.05 619.77,829.92 619.10,832.76 618.42,835.54 617.75,838.29 617.07,840.99 616.40,843.65 615.72,846.27 615.05,848.84 614.38,851.37 613.70,853.86 613.03,856.30 612.35,858.69 611.68,861.04 611.00,863.34 610.33,865.60 609.66,867.80 608.98,869.97 608.31,872.08 607.63,874.15 606.96,876.16 606.28,878.13 605.61,880.05 604.94,881.92 604.26,883.75 603.59,885.52 602.91,887.24 602.24,888.91 601.56,890.54 600.89,892.11 600.22,893.63 599.54,895.10 598.87,896.51 598.19,897.88 597.52,899.19 596.84,900.45 596.17,901.66 595.50,902.82 594.82,903.92 594.15,904.97 593.47,905.97 592.80,906.91 592.12,907.81 591.45,908.65 590.78,909.43 590.10,910.16 589.43,910.84 588.75,911.47 588.08,912.04 587.40,912.56 586.73,913.02 586.05,913.43 585.38,913.79 584.71,914.09 584.03,914.34 583.36,914.54 582.68,914.68 582.01,914.77 581.33,914.80 580.66,914.78 579.99,914.71 579.31,914.58 578.64,914.40 577.96,914.16 577.29,913.88 576.61,913.53 575.94,913.14 575.27,912.69 574.59,912.19 573.92,911.63 573.24,911.02 572.57,910.36 571.89,909.65 571.22,908.88 570.55,908.06 569.87,907.19 569.20,906.27 568.52,905.29 567.85,904.26 567.17,903.18 566.50,902.04 565.83,900.86 565.15,899.62 564.48,898.34 563.80,897.00 563.13,895.61 562.45,894.17 561.78,892.68 561.11,891.14 560.43,889.55 559.76,887.90 559.08,886.21 558.41,884.47 557.73,882.68 557.06,880.85 556.38,878.96 555.71,877.03 555.04,875.04 554.36,873.01 553.69,870.93 553.01,868.81 552.34,866.64 551.66,864.42 550.99,862.15 550.32,859.84 549.64,857.49 548.97,855.08 548.29,852.64 547.62,850.15 546.94,847.61 546.27,845.03 545.60,842.41 544.92,839.74 544.25,837.03 543.57,834.28 542.90,831.49 542.22,828.65 541.55,825.78 540.88,822.86 540.20,819.90 539.53,816.90 538.85,813.87 538.18,810.79 537.50,807.68 536.83,804.52 536.16,801.33 535.48,798.11 534.81,794.84 534.13,791.54 533.46,788.20 532.78,784.83 532.11,781.42 531.44,777.98 530.76,774.50 530.09,770.99 529.41,767.45 528.74,763.87 528.06,760.26 527.39,756.63 526.72,752.95 526.04,749.25 525.37,745.52 524.69,741.76 524.02,737.98 523.34,734.16 522.67,730.31 521.99,726.44 521.32,722.54 520.65,718.62 519.97,714.67 519.30,710.69 518.62,706.70 517.95,702.68 517.27,698.64 516.60,694.57 515.93,690.49 515.25,686.39 514.58,682.27 513.90,678.13 513.23,673.97 512.55,669.79 511.88,665.60 511.21,661.39 510.53,657.17 509.86,652.94 509.18,648.68 508.51,644.42 507.83,640.15 507.16,635.86 506.49,631.56 505.81,627.25 505.14,622.93 504.46,618.60 503.79,614.27 503.11,609.92 502.44,605.57 501.77,601.22 501.09,596.86 500.42,592.49 499.74,588.12 499.07,583.74 498.39,579.37 497.72,574.99 497.05,570.61 496.37,566.23 495.70,561.85 495.02,557.47 494.35,553.09 493.67,548.71 493.00,544.34 492.32,539.97 491.65,535.61 490.98,531.25 490.30,526.89 489.63,522.55 488.95,518.21 488.28,513.88 487.60,509.55 486.93,505.24 486.26,500.93 485.58,496.64 484.91,492.36 484.23,488.09 483.56,483.83 482.88,479.58 482.21,475.35 481.54,471.14 480.86,466.94 480.19,462.76 479.51,458.59 478.84,454.44 478.16,450.31 477.49,446.20 476.82,442.10 476.14,438.03 475.47,433.98 474.79,429.95 474.12,425.94 473.44,421.95 472.77,417.99 472.10,414.05 471.42,410.14 470.75,406.25 470.07,402.39 469.40,398.55 468.72,394.74 468.05,390.96 467.38,387.21 466.70,383.48 466.03,379.79 465.35,376.12 464.68,372.49 464.00,368.88 463.33,365.31 462.66,361.77 461.98,358.27 461.31,354.80 460.63,351.36 459.96,347.96 459.28,344.59 458.61,341.25 457.93,337.96 457.26,334.70 456.59,331.48 455.91,328.29 455.24,325.14 454.56,322.04 453.89,318.97 453.21,315.94 452.54,312.95 451.87,310.00 451.19,307.10 450.52,304.23 449.84,301.41 449.17,298.63 448.49,295.90 447.82,293.21 447.15,290.56 446.47,287.96 445.80,285.41 445.12,282.90 444.45,280.44 443.77,278.02 443.10,275.65 442.43,273.33 441.75,271.05 441.08,268.83 440.40,266.65 439.73,264.52 439.05,262.43 438.38,260.40 437.71,258.41 437.03,256.48 436.36,254.59 435.68,252.75 435.01,250.97 434.33,249.23 433.66,247.54 432.99,245.90 432.31,244.32 431.64,242.78 430.96,241.29 430.29,239.86 429.61,238.47 428.94,237.14 428.26,235.86 427.59,234.63 426.92,233.45 426.24,232.33 425.57,231.25 424.89,230.23 424.22,229.26 423.54,228.34 422.87,227.48 422.20,226.67 421.52,225.91 420.85,225.20 420.17,224.54 419.50,223.94 418.82,223.39 418.15,222.90 417.48,222.45 416.80,222.07 416.13,221.73 415.45,221.45 414.78,221.21 414.10,221.03 413.43,220.90 412.76,220.83 412.08,220.80 411.41,220.82 410.73,220.90 410.06,221.03 409.38,221.20 408.71,221.43 408.04,221.71 407.36,222.03 406.69,222.41 406.01,222.84 405.34,223.31 404.66,223.84 403.99,224.42 403.32,225.05 402.64,225.72 401.97,226.45 401.29,227.23 400.62,228.06 399.94,228.94 399.27,229.86 398.59,230.84 397.92,231.87 397.25,232.94 396.57,234.07 395.90,235.24 395.22,236.46 394.55,237.73 393.87,239.05 393.20,240.41 392.53,241.83 391.85,243.29 391.18,244.79 390.50,246.35 389.83,247.95 389.15,249.59 388.48,251.28 387.81,253.02 387.13,254.80 386.46,256.63 385.78,258.51 385.11,260.42 384.43,262.39 383.76,264.39 383.09,266.44 382.41,268.54 381.74,270.67 381.06,272.85 380.39,275.07 379.71,277.34 379.04,279.64 378.37,281.99 377.69,284.38 377.02,286.81 376.34,289.29 375.67,291.80 374.99,294.36 374.32,296.96 373.65,299.60 372.97,302.28 372.30,305.00 371.62,307.76 370.95,310.55 370.27,313.37 369.60,316.24 368.93,319.13 368.25,322.06 367.58,325.02 366.90,328.01 366.23,331.03 365.55,334.08 364.88,337.15 364.20,340.26 363.53,343.38 362.86,346.53 362.18,349.70 361.51,352.89 360.83,356.10 360.16,359.31 359.48,362.54 358.81,365.79 358.14,369.05 357.46,372.32 356.79,375.60 356.11,378.90 355.44,382.21 354.76,385.53 354.09,388.86 353.42,392.21 352.74,395.57 352.07,398.95 351.39,402.34 350.72,405.74 350.04,409.16 349.37,412.58 348.70,416.00 348.02,419.41 347.35,422.82 346.67,426.23 346.00,429.64 345.32,433.05 344.65,436.45 343.98,439.86 343.30,443.28 342.63,446.69 341.95,450.12 341.28,453.54 340.60,456.98 339.93,460.42 339.26,463.88 338.58,467.34 337.91,470.82 337.23,474.32 336.56,477.82 335.88,481.35 335.21,484.89 334.53,488.45 333.86,492.02 333.19,495.59 332.51,499.17 331.84,502.76 331.16,506.35 330.49,509.94 329.81,513.54 329.14,517.15 328.47,520.75 327.79,524.37 327.12,527.98 326.44,531.59 325.77,535.21 325.09,538.83 324.42,542.45 323.75,546.07 323.07,549.70 322.40,553.32 321.72,556.94 321.05,560.56 320.37,564.18 319.70,567.80" fill="none" stroke="#ec0000" stroke-width="5.8" stroke-dasharray="21.5 18.5" stroke-linecap="round" stroke-linejoin="round"/>
<path d="M1321.00,777.40L1320.33,780.16 1319.66,782.89 1319.00,785.59 1318.33,788.25 1317.66,790.88 1316.99,793.48 1316.32,796.05 1315.66,798.58 1314.99,801.08 1314.32,803.54 1313.65,805.97 1312.98,808.36 1312.32,810.72 1311.65,813.04 1310.98,815.33 1310.31,817.58 1309.64,819.79 1308.98,821.96 1308.31,824.10 1307.64,826.20 1306.97,828.25 1306.30,830.28 1305.64,832.26 1304.97,834.20 1304.30,836.10 1303.63,837.97 1302.96,839.79 1302.30,841.57 1301.63,843.31 1300.96,845.01 1300.29,846.67 1299.62,848.29 1298.96,849.87 1298.29,851.40 1297.62,852.89 1296.95,854.34 1296.28,855.75 1295.62,857.11 1294.95,858.44 1294.28,859.71 1293.61,860.95 1292.94,862.14 1292.28,863.28 1291.61,864.39 1290.94,865.45 1290.27,866.46 1289.61,867.43 1288.94,868.35 1288.27,869.23 1287.60,870.07 1286.93,870.86 1286.27,871.60 1285.60,872.30 1284.93,872.96 1284.26,873.57 1283.59,874.13 1282.93,874.65 1282.26,875.12 1281.59,875.54 1280.92,875.92 1280.25,876.26 1279.59,876.54 1278.92,876.79 1278.25,876.98 1277.58,877.13 1276.91,877.23 1276.25,877.29 1275.58,877.30 1274.91,877.26 1274.24,877.18 1273.57,877.05 1272.91,876.87 1272.24,876.65 1271.57,876.39 1270.90,876.07 1270.23,875.71 1269.57,875.30 1268.90,874.85 1268.23,874.35 1267.56,873.81 1266.89,873.22 1266.23,872.58 1265.56,871.90 1264.89,871.17 1264.22,870.40 1263.55,869.58 1262.89,868.72 1262.22,867.81 1261.55,866.86 1260.88,865.86 1260.21,864.81 1259.55,863.72 1258.88,862.59 1258.21,861.41 1257.54,860.19 1256.87,858.93 1256.21,857.62 1255.54,856.26 1254.87,854.87 1254.20,853.43 1253.53,851.95 1252.87,850.42 1252.20,848.85 1251.53,847.24 1250.86,845.59 1250.19,843.89 1249.53,842.16 1248.86,840.38 1248.19,838.56 1247.52,836.70 1246.85,834.80 1246.19,832.86 1245.52,830.88 1244.85,828.86 1244.18,826.80 1243.51,824.70 1242.85,822.56 1242.18,820.38 1241.51,818.17 1240.84,815.92 1240.17,813.63 1239.51,811.30 1238.84,808.93 1238.17,806.53 1237.50,804.09 1236.83,801.62 1236.17,799.11 1235.50,796.57 1234.83,793.99 1234.16,791.38 1233.49,788.73 1232.83,786.05 1232.16,783.33 1231.49,780.59 1230.82,777.81 1230.15,775.00 1229.49,772.15 1228.82,769.28 1228.15,766.37 1227.48,763.44 1226.82,760.47 1226.15,757.48 1225.48,754.46 1224.81,751.40 1224.14,748.32 1223.48,745.21 1222.81,742.08 1222.14,738.92 1221.47,735.73 1220.80,732.52 1220.14,729.28 1219.47,726.01 1218.80,722.73 1218.13,719.41 1217.46,716.08 1216.80,712.72 1216.13,709.34 1215.46,705.94 1214.79,702.51 1214.12,699.07 1213.46,695.60 1212.79,692.12 1212.12,688.61 1211.45,685.09 1210.78,681.55 1210.12,677.99 1209.45,674.42 1208.78,670.82 1208.11,667.22 1207.44,663.59 1206.78,659.95 1206.11,656.30 1205.44,652.63 1204.77,648.95 1204.10,645.26 1203.44,641.55 1202.77,637.84 1202.10,634.11 1201.43,630.37 1200.76,626.62 1200.10,622.86 1199.43,619.09 1198.76,615.32 1198.09,611.54 1197.42,607.75 1196.76,603.95 1196.09,600.15 1195.42,596.35 1194.75,592.54 1194.08,588.72 1193.42,584.91 1192.75,581.09 1192.08,577.26 1191.41,573.44 1190.74,569.62 1190.08,565.79 1189.41,561.97 1188.74,558.14 1188.07,554.32 1187.40,550.50 1186.74,546.68 1186.07,542.87 1185.40,539.06 1184.73,535.25 1184.06,531.45 1183.40,527.65 1182.73,523.86 1182.06,520.08 1181.39,516.30 1180.72,512.53 1180.06,508.77 1179.39,505.02 1178.72,501.28 1178.05,497.55 1177.38,493.83 1176.72,490.12 1176.05,486.42 1175.38,482.73 1174.71,479.06 1174.04,475.40 1173.38,471.76 1172.71,468.12 1172.04,464.51 1171.37,460.91 1170.70,457.33 1170.04,453.76 1169.37,450.21 1168.70,446.68 1168.03,443.17 1167.36,439.67 1166.70,436.20 1166.03,432.74 1165.36,429.31 1164.69,425.90 1164.03,422.50 1163.36,419.14 1162.69,415.79 1162.02,412.47 1161.35,409.17 1160.69,405.89 1160.02,402.64 1159.35,399.42 1158.68,396.22 1158.01,393.04 1157.35,389.90 1156.68,386.78 1156.01,383.68 1155.34,380.62 1154.67,377.58 1154.01,374.58 1153.34,371.60 1152.67,368.65 1152.00,365.74 1151.33,362.85 1150.67,360.00 1150.00,357.18 1149.33,354.39 1148.66,351.63 1147.99,348.90 1147.33,346.21 1146.66,343.56 1145.99,340.93 1145.32,338.34 1144.65,335.79 1143.99,333.27 1143.32,330.79 1142.65,328.35 1141.98,325.94 1141.31,323.56 1140.65,321.23 1139.98,318.93 1139.31,316.67 1138.64,314.45 1137.97,312.27 1137.31,310.13 1136.64,308.03 1135.97,305.96 1135.30,303.94 1134.63,301.96 1133.97,300.02 1133.30,298.11 1132.63,296.25 1131.96,294.44 1131.29,292.66 1130.63,290.93 1129.96,289.23 1129.29,287.58 1128.62,285.98 1127.95,284.42 1127.29,282.90 1126.62,281.42 1125.95,279.99 1125.28,278.60 1124.61,277.26 1123.95,275.96 1123.28,274.70 1122.61,273.50 1121.94,272.33 1121.27,271.21 1120.61,270.14 1119.94,269.11 1119.27,268.13 1118.60,267.19 1117.93,266.30 1117.27,265.46 1116.60,264.66 1115.93,263.91 1115.26,263.21 1114.59,262.55 1113.93,261.94 1113.26,261.38 1112.59,260.86 1111.92,260.39 1111.25,259.97 1110.59,259.60 1109.92,259.27 1109.25,258.99 1108.58,258.76 1107.91,258.57 1107.25,258.44 1106.58,258.35 1105.91,258.30 1105.24,258.31 1104.57,258.36 1103.91,258.46 1103.24,258.61 1102.57,258.81 1101.90,259.05 1101.24,259.34 1100.57,259.68 1099.90,260.06 1099.23,260.50 1098.56,260.98 1097.90,261.50 1097.23,262.08 1096.56,262.70 1095.89,263.37 1095.22,264.08 1094.56,264.84 1093.89,265.65 1093.22,266.51 1092.55,267.41 1091.88,268.36 1091.22,269.35 1090.55,270.39 1089.88,271.48 1089.21,272.61 1088.54,273.78 1087.88,275.01 1087.21,276.27 1086.54,277.59 1085.87,278.94 1085.20,280.34 1084.54,281.79 1083.87,283.28 1083.20,284.81 1082.53,286.39 1081.86,288.01 1081.20,289.67 1080.53,291.38 1079.86,293.13 1079.19,294.92 1078.52,296.76 1077.86,298.63 1077.19,300.55 1076.52,302.51 1075.85,304.51 1075.18,306.55 1074.52,308.63 1073.85,310.75 1073.18,312.91 1072.51,315.11 1071.84,317.35 1071.18,319.62 1070.51,321.94 1069.84,324.29 1069.17,326.68 1068.50,329.11 1067.84,331.58 1067.17,334.08 1066.50,336.62 1065.83,339.19 1065.16,341.80 1064.50,344.45 1063.83,347.12 1063.16,349.84 1062.49,352.58 1061.82,355.36 1061.16,358.18 1060.49,361.02 1059.82,363.90 1059.15,366.81 1058.48,369.75 1057.82,372.72 1057.15,375.72 1056.48,378.75 1055.81,381.81 1055.14,384.90 1054.48,388.02 1053.81,391.16 1053.14,394.33 1052.47,397.53 1051.80,400.76 1051.14,404.01 1050.47,407.29 1049.80,410.59 1049.13,413.92 1048.46,417.27 1047.80,420.64 1047.13,424.04 1046.46,427.46 1045.79,430.90 1045.12,434.36 1044.46,437.84 1043.79,441.35 1043.12,444.87 1042.45,448.41 1041.78,451.97 1041.12,455.55 1040.45,459.15 1039.78,462.76 1039.11,466.39 1038.45,470.04 1037.78,473.70 1037.11,477.37 1036.44,481.06 1035.77,484.76 1035.11,488.48 1034.44,492.21 1033.77,495.95 1033.10,499.70 1032.43,503.46 1031.77,507.23 1031.10,511.02 1030.43,514.81 1029.76,518.61 1029.09,522.41 1028.43,526.23 1027.76,530.05 1027.09,533.87 1026.42,537.71 1025.75,541.54 1025.09,545.38 1024.42,549.23 1023.75,553.08 1023.08,556.93 1022.41,560.78 1021.75,564.63 1021.08,568.49 1020.41,572.34 1019.74,576.19 1019.07,580.05 1018.41,583.90 1017.74,587.74 1017.07,591.59 1016.40,595.43 1015.73,599.27 1015.07,603.10 1014.40,606.93 1013.73,610.75 1013.06,614.57 1012.39,618.37 1011.73,622.17 1011.06,625.97 1010.39,629.75 1009.72,633.52 1009.05,637.29 1008.39,641.04 1007.72,644.78 1007.05,648.51 1006.38,652.23 1005.71,655.93 1005.05,659.62 1004.38,663.30 1003.71,666.96 1003.04,670.61 1002.37,674.24 1001.71,677.86 1001.04,681.45 1000.37,685.03 999.70,688.60 999.03,692.14 998.37,695.66 997.70,699.17 997.03,702.65 996.36,706.12 995.69,709.56 995.03,712.98 994.36,716.37 993.69,719.75 993.02,723.10 992.35,726.43 991.69,729.73 991.02,733.00 990.35,736.26 989.68,739.48 989.01,742.68 988.35,745.85 987.68,748.99 987.01,752.11 986.34,755.20 985.67,758.25 985.01,761.28 984.34,764.28 983.67,767.25 983.00,770.18 982.33,773.09 981.67,775.96 981.00,778.80 980.33,781.61 979.66,784.39 978.99,787.13 978.33,789.84 977.66,792.51 976.99,795.15 976.32,797.75 975.66,800.32 974.99,802.85 974.32,805.34 973.65,807.80 972.98,810.22 972.32,812.60 971.65,814.94 970.98,817.25 970.31,819.52 969.64,821.74 968.98,823.93 968.31,826.08 967.64,828.19 966.97,830.25 966.30,832.28 965.64,834.27 964.97,836.21 964.30,838.11 963.63,839.97 962.96,841.79 962.30,843.57 961.63,845.30 960.96,846.99 960.29,848.63 959.62,850.23 958.96,851.79 958.29,853.31 957.62,854.78 956.95,856.20 956.28,857.58 955.62,858.91 954.95,860.20 954.28,861.45 953.61,862.64 952.94,863.80 952.28,864.90 951.61,865.96 950.94,866.97 950.27,867.94 949.60,868.86 948.94,869.73 948.27,870.56 947.60,871.34 946.93,872.07 946.26,872.75 945.60,873.39 944.93,873.98 944.26,874.52 943.59,875.01 942.92,875.46 942.26,875.85 941.59,876.20 940.92,876.50 940.25,876.76 939.58,876.96 938.92,877.12 938.25,877.23 937.58,877.29 936.91,877.30 936.24,877.26 935.58,877.18 934.91,877.04 934.24,876.86 933.57,876.63 932.90,876.36 932.24,876.03 931.57,875.66 930.90,875.24 930.23,874.77 929.56,874.25 928.90,873.68 928.23,873.07 927.56,872.41 926.89,871.70 926.22,870.95 925.56,870.14 924.89,869.29 924.22,868.40 923.55,867.45 922.88,866.46 922.22,865.43 921.55,864.34 920.88,863.21 920.21,862.04 919.54,860.81 918.88,859.55 918.21,858.23 917.54,856.88 916.87,855.47 916.20,854.02 915.54,852.53 914.87,850.99 914.20,849.41 913.53,847.79 912.87,846.12 912.20,844.40 911.53,842.65 910.86,840.85 910.19,839.01 909.53,837.12 908.86,835.20 908.19,833.23 907.52,831.22 906.85,829.17 906.19,827.08 905.52,824.95 904.85,822.78 904.18,820.57 903.51,818.32 902.85,816.03 902.18,813.70 901.51,811.33 900.84,808.93 900.17,806.48 899.51,804.00 898.84,801.49 898.17,798.94 897.50,796.35 896.83,793.72 896.17,791.06 895.50,788.37 894.83,785.64 894.16,782.87 893.49,780.08 892.83,777.25 892.16,774.38 891.49,771.49 890.82,768.56 890.15,765.60 889.49,762.61 888.82,759.60 888.15,756.55 887.48,753.47 886.81,750.36 886.15,747.22 885.48,744.06 884.81,740.87 884.14,737.65 883.47,734.40 882.81,731.13 882.14,727.84 881.47,724.51 880.80,721.17 880.13,717.80 879.47,714.40 878.80,710.99 878.13,707.55 877.46,704.09 876.79,700.61 876.13,697.10 875.46,693.58 874.79,690.04 874.12,686.48 873.45,682.90 872.79,679.30 872.12,675.68 871.45,672.05 870.78,668.40 870.11,664.74 869.45,661.06 868.78,657.37 868.11,653.66 867.44,649.94 866.77,646.20 866.11,642.46 865.44,638.70 864.77,634.93 864.10,631.15 863.43,627.36 862.77,623.56 862.10,619.76 861.43,615.94 860.76,612.12 860.09,608.29 859.43,604.45 858.76,600.61 858.09,596.76 857.42,592.91 856.75,589.06 856.09,585.20 855.42,581.34 854.75,577.48 854.08,573.61 853.41,569.75 852.75,565.88 852.08,562.01 851.41,558.15 850.74,554.29 850.08,550.42 849.41,546.57 848.74,542.71 848.07,538.86 847.40,535.01 846.74,531.17 846.07,527.34 845.40,523.51 844.73,519.69 844.06,515.87 843.40,512.06 842.73,508.27 842.06,504.48 841.39,500.70 840.72,496.93 840.06,493.17 839.39,489.43 838.72,485.69 838.05,481.97 837.38,478.27 836.72,474.57 836.05,470.90 835.38,467.23 834.71,463.58 834.04,459.95 833.38,456.34 832.71,452.74 832.04,449.16 831.37,445.60 830.70,442.06 830.04,438.54 829.37,435.04 828.70,431.56 828.03,428.10 827.36,424.66 826.70,421.24 826.03,417.85 825.36,414.48 824.69,411.14 824.02,407.82 823.36,404.52 822.69,401.25 822.02,398.01 821.35,394.79 820.68,391.60 820.02,388.43 819.35,385.30 818.68,382.19 818.01,379.12 817.34,376.07 816.68,373.05 816.01,370.06 815.34,367.10 814.67,364.18 814.00,361.28 813.34,358.42 812.67,355.59 812.00,352.80 811.33,350.03 810.66,347.31 810.00,344.61 809.33,341.95 808.66,339.33 807.99,336.74 807.32,334.19 806.66,331.67 805.99,329.19 805.32,326.75 804.65,324.35 803.98,321.98 803.32,319.65 802.65,317.36 801.98,315.11 801.31,312.90 800.64,310.73 799.98,308.60 799.31,306.51 798.64,304.46 797.97,302.45 797.30,300.48 796.64,298.55 795.97,296.67 795.30,294.83 794.63,293.03 793.96,291.27 793.30,289.56 792.63,287.89 791.96,286.26 791.29,284.68 790.62,283.14 789.96,281.64 789.29,280.20 788.62,278.79 787.95,277.43 787.29,276.12 786.62,274.85 785.95,273.62 785.28,272.44 784.61,271.31 783.95,270.23 783.28,269.19 782.61,268.19 781.94,267.25 781.27,266.35 780.61,265.50 779.94,264.69 779.27,263.93 778.60,263.22 777.93,262.56 777.27,261.95 776.60,261.38 775.93,260.86 775.26,260.39 774.59,259.96 773.93,259.59 773.26,259.26 772.59,258.98 771.92,258.75 771.25,258.56 770.59,258.43 769.92,258.34 769.25,258.30 768.58,258.31 767.91,258.37 767.25,258.48 766.58,258.63 765.91,258.83 765.24,259.08 764.57,259.38 763.91,259.73 763.24,260.12 762.57,260.57 761.90,261.06 761.23,261.60 760.57,262.18 759.90,262.82 759.23,263.50 758.56,264.23 757.89,265.00 757.23,265.83 756.56,266.70 755.89,267.62 755.22,268.58 754.55,269.59 753.89,270.65 753.22,271.75 752.55,272.90 751.88,274.10 751.21,275.34 750.55,276.63 749.88,277.96 749.21,279.34 748.54,280.77 747.87,282.23 747.21,283.75 746.54,285.30 745.87,286.90 745.20,288.55 744.53,290.24 743.87,291.97 743.20,293.74 742.53,295.56 741.86,297.42 741.19,299.32 740.53,301.27 739.86,303.25 739.19,305.28 738.52,307.35 737.85,309.45 737.19,311.60 736.52,313.79 735.85,316.02 735.18,318.28 734.51,320.59 733.85,322.93 733.18,325.32 732.51,327.74 731.84,330.20 731.17,332.69 730.51,335.22 729.84,337.79 729.17,340.39 728.50,343.03 727.83,345.71 727.17,348.41 726.50,351.16 725.83,353.93 725.16,356.74 724.50,359.58 723.83,362.46 723.16,365.37 722.49,368.30 721.82,371.27 721.16,374.27 720.49,377.30 719.82,380.36 719.15,383.45 718.48,386.57 717.82,389.71 717.15,392.89 716.48,396.09 715.81,399.32 715.14,402.57 714.48,405.85 713.81,409.15 713.14,412.48 712.47,415.83 711.80,419.21 711.14,422.61 710.47,426.03 709.80,429.48 709.13,432.94 708.46,436.43 707.80,439.93 707.13,443.46 706.46,447.01 705.79,450.57 705.12,454.15 704.46,457.75 703.79,461.37 703.12,465.01 702.45,468.66 701.78,472.32 701.12,476.00 700.45,479.69 699.78,483.40 699.11,487.12 698.44,490.86 697.78,494.60 697.11,498.36 696.44,502.12 695.77,505.90 695.10,509.69 694.44,513.48 693.77,517.29 693.10,521.10 692.43,524.92 691.76,528.74 691.10,532.57 690.43,536.41 689.76,540.25 689.09,544.10 688.42,547.95 687.76,551.80 687.09,555.65 686.42,559.51 685.75,563.36 685.08,567.22 684.42,571.08 683.75,574.94 683.08,578.79 682.41,582.65 681.74,586.50 681.08,590.35 680.41,594.19 679.74,598.03 679.07,601.87 678.40,605.70 677.74,609.52 677.07,613.34 676.40,617.15 675.73,620.95 675.06,624.75 674.40,628.53 673.73,632.31 673.06,636.07 672.39,639.83 671.72,643.57 671.06,647.30 670.39,651.02 669.72,654.73 669.05,658.42 668.38,662.10 667.72,665.76 667.05,669.41 666.38,673.04 665.71,676.66 665.04,680.26 664.38,683.84 663.71,687.40 663.04,690.94 662.37,694.47 661.71,697.97 661.04,701.46 660.37,704.92 659.70,708.37 659.03,711.79 658.37,715.18 657.70,718.56 657.03,721.91 656.36,725.24 655.69,728.54 655.03,731.82 654.36,735.07 653.69,738.30 653.02,741.50 652.35,744.67 651.69,747.82 651.02,750.93 650.35,754.02 649.68,757.08 649.01,760.11 648.35,763.11 647.68,766.07 647.01,769.01 646.34,771.91 645.67,774.78 645.01,777.61 644.34,780.42 643.67,783.18 643.00,785.92 642.33,788.62 641.67,791.28 641.00,793.91 640.33,796.50 639.66,799.06 638.99,801.58 638.33,804.07 637.66,806.51 636.99,808.92 636.32,811.30 635.65,813.63 634.99,815.93 634.32,818.19 633.65,820.40 632.98,822.58 632.31,824.73 631.65,826.83 630.98,828.89 630.31,830.91 629.64,832.89 628.97,834.83 628.31,836.73 627.64,838.59 626.97,840.41 626.30,842.18 625.63,843.92 624.97,845.61 624.30,847.26 623.63,848.86 622.96,850.43 622.29,851.95 621.63,853.43 620.96,854.87 620.29,856.26 619.62,857.61 618.95,858.92 618.29,860.18 617.62,861.40 616.95,862.57 616.28,863.70 615.61,864.79 614.95,865.83 614.28,866.82 613.61,867.78 612.94,868.68 612.27,869.54 611.61,870.36 610.94,871.13 610.27,871.86 609.60,872.54 608.93,873.18 608.27,873.77 607.60,874.31 606.93,874.81 606.26,875.27 605.59,875.68 604.93,876.04 604.26,876.36 603.59,876.63 602.92,876.85 602.25,877.03 601.59,877.17 600.92,877.25 600.25,877.30 599.58,877.29 598.92,877.24 598.25,877.15 597.58,877.01 596.91,876.82 596.24,876.59 595.58,876.31 594.91,875.99 594.24,875.63 593.57,875.21 592.90,874.76 592.24,874.26 591.57,873.72 590.90,873.13 590.23,872.50 589.56,871.82 588.90,871.11 588.23,870.34 587.56,869.54 586.89,868.69 586.22,867.80 585.56,866.87 584.89,865.89 584.22,864.87 583.55,863.81 582.88,862.71 582.22,861.56 581.55,860.37 580.88,859.14 580.21,857.87 579.54,856.56 578.88,855.21 578.21,853.81 577.54,852.38 576.87,850.90 576.20,849.39 575.54,847.83 574.87,846.23 574.20,844.59 573.53,842.92 572.86,841.20 572.20,839.44 571.53,837.64 570.86,835.81 570.19,833.93 569.52,832.02 568.86,830.07 568.19,828.08 567.52,826.06 566.85,824.00 566.18,821.91 565.52,819.78 564.85,817.62 564.18,815.43 563.51,813.20 562.84,810.93 562.18,808.63 561.51,806.30 560.84,803.94 560.17,801.54 559.50,799.11 558.84,796.65 558.17,794.15 557.50,791.62 556.83,789.06 556.16,786.47 555.50,783.85 554.83,781.19 554.16,778.51 553.49,775.79 552.82,773.04 552.16,770.26 551.49,767.45 550.82,764.61 550.15,761.74 549.48,758.84 548.82,755.91 548.15,752.95 547.48,749.96 546.81,746.94 546.14,743.89 545.48,740.81 544.81,737.70 544.14,734.56 543.47,731.40 542.80,728.21 542.14,724.98 541.47,721.73 540.80,718.46 540.13,715.15 539.46,711.82 538.80,708.46 538.13,705.09 537.46,701.70 536.79,698.28 536.13,694.85 535.46,691.40 534.79,687.93 534.12,684.44 533.45,680.93 532.79,677.41 532.12,673.86 531.45,670.31 530.78,666.73 530.11,663.14 529.45,659.53 528.78,655.91 528.11,652.27 527.44,648.62 526.77,644.96 526.11,641.28 525.44,637.59 524.77,633.88 524.10,630.16 523.43,626.43 522.77,622.69 522.10,618.94 521.43,615.17 520.76,611.40 520.09,607.62 519.43,603.82 518.76,600.02 518.09,596.21 517.42,592.39 516.75,588.56 516.09,584.73 515.42,580.88 514.75,577.03 514.08,573.18 513.41,569.32 512.75,565.45 512.08,561.58 511.41,557.70 510.74,553.81 510.07,549.89 509.41,545.97 508.74,542.03 508.07,538.09 507.40,534.14 506.73,530.18 506.07,526.22 505.40,522.25 504.73,518.29 504.06,514.33 503.39,510.37 502.73,506.42 502.06,502.48 501.39,498.54 500.72,494.62 500.05,490.70 499.39,486.81 498.72,482.93 498.05,479.07 497.38,475.22 496.71,471.40 496.05,467.61 495.38,463.83 494.71,460.09 494.04,456.37 493.37,452.68 492.71,449.03 492.04,445.40 491.37,441.81 490.70,438.26 490.03,434.74 489.37,431.26 488.70,427.80 488.03,424.37 487.36,420.96 486.69,417.59 486.03,414.24 485.36,410.93 484.69,407.64 484.02,404.38 483.35,401.15 482.69,397.95 482.02,394.78 481.35,391.64 480.68,388.53 480.01,385.45 479.35,382.40 478.68,379.38 478.01,376.40 477.34,373.44 476.67,370.52 476.01,367.63 475.34,364.77 474.67,361.95 474.00,359.16 473.34,356.40 472.67,353.68 472.00,350.99 471.33,348.33 470.66,345.71 470.00,343.12 469.33,340.58 468.66,338.09 467.99,335.67 467.32,333.29 466.66,330.98 465.99,328.71 465.32,326.49 464.65,324.32 463.98,322.20 463.32,320.12 462.65,318.09 461.98,316.10 461.31,314.15 460.64,312.24 459.98,310.37 459.31,308.54 458.64,306.74 457.97,304.98 457.30,303.26 456.64,301.56 455.97,299.90 455.30,298.27 454.63,296.68 453.96,295.11 453.30,293.57 452.63,292.07 451.96,290.61 451.29,289.19 450.62,287.82 449.96,286.49 449.29,285.20 448.62,283.94 447.95,282.73 447.28,281.55 446.62,280.41 445.95,279.30 445.28,278.22 444.61,277.17 443.94,276.16 443.28,275.17 442.61,274.22 441.94,273.29 441.27,272.39 440.60,271.52 439.94,270.67 439.27,269.85 438.60,269.06 437.93,268.29 437.26,267.55 436.60,266.84 435.93,266.15 435.26,265.50 434.59,264.87 433.92,264.28 433.26,263.72 432.59,263.18 431.92,262.67 431.25,262.19 430.58,261.74 429.92,261.32 429.25,260.93 428.58,260.56 427.91,260.22 427.24,259.91 426.58,259.62 425.91,259.36 425.24,259.13 424.57,258.93 423.90,258.76 423.24,258.61 422.57,258.49 421.90,258.40 421.23,258.34 420.56,258.31 419.90,258.30 419.23,258.33 418.56,258.39 417.89,258.47 417.22,258.59 416.56,258.74 415.89,258.91 415.22,259.12 414.55,259.36 413.88,259.63 413.22,259.93 412.55,260.26 411.88,260.62 411.21,261.02 410.55,261.44 409.88,261.90 409.21,262.39 408.54,262.92 407.87,263.47 407.21,264.06 406.54,264.69 405.87,265.35 405.20,266.04 404.53,266.77 403.87,267.53 403.20,268.33 402.53,269.16 401.86,270.02 401.19,270.92 400.53,271.85 399.86,272.82 399.19,273.83 398.52,274.87 397.85,275.94 397.19,277.05 396.52,278.19 395.85,279.37 395.18,280.58 394.51,281.83 393.85,283.12 393.18,284.44 392.51,285.79 391.84,287.18 391.17,288.60 390.51,290.06 389.84,291.56 389.17,293.09 388.50,294.66 387.83,296.27 387.17,297.92 386.50,299.60 385.83,301.33 385.16,303.08 384.49,304.88 383.83,306.70 383.16,308.56 382.49,310.45 381.82,312.38 381.15,314.33 380.49,316.31 379.82,318.31 379.15,320.35 378.48,322.40 377.81,324.48 377.15,326.58 376.48,328.70 375.81,330.83 375.14,332.99 374.47,335.16 373.81,337.36 373.14,339.58 372.47,341.82 371.80,344.08 371.13,346.35 370.47,348.65 369.80,350.96 369.13,353.30 368.46,355.65 367.79,358.02 367.13,360.41 366.46,362.82 365.79,365.24 365.12,367.68 364.45,370.14 363.79,372.62 363.12,375.11 362.45,377.62 361.78,380.14 361.11,382.69 360.45,385.24 359.78,387.81 359.11,390.39 358.44,392.96 357.77,395.54 357.11,398.12 356.44,400.71 355.77,403.30 355.10,405.91 354.43,408.53 353.77,411.17 353.10,413.83 352.43,416.51 351.76,419.22 351.09,421.95 350.43,424.72 349.76,427.52 349.09,430.34 348.42,433.18 347.76,436.04 347.09,438.91 346.42,441.81 345.75,444.73 345.08,447.66 344.42,450.61 343.75,453.57 343.08,456.55 342.41,459.55 341.74,462.56 341.08,465.59 340.41,468.63 339.74,471.69 339.07,474.76 338.40,477.84 337.74,480.93 337.07,484.03 336.40,487.15 335.73,490.28 335.06,493.41 334.40,496.56 333.73,499.71 333.06,502.88 332.39,506.06 331.72,509.24 331.06,512.44 330.39,515.64 329.72,518.85 329.05,522.07 328.38,525.30 327.72,528.53 327.05,531.77 326.38,535.02 325.71,538.28 325.04,541.54 324.38,544.80 323.71,548.07 323.04,551.35 322.37,554.63 321.70,557.92 321.04,561.21 320.37,564.50 319.70,567.80" fill="none" stroke="#2b28c4" stroke-width="5.8" stroke-dasharray="10.5 10.5 0.01 10.5" stroke-linecap="round" stroke-linejoin="round"/>
<path d="M415.2,125.6H541.5" stroke="#000" stroke-width="6"/>
<path d="M916.3,77.5H1036.2" stroke="#2b28c4" stroke-width="5.8" stroke-dasharray="15.7 14.2 0.01 14.69" stroke-linecap="round"/>
<path d="M918,174H1039.1" stroke="#ec0000" stroke-width="5.8" stroke-dasharray="16 13.5" stroke-linecap="round"/>
<text transform="translate(165.47,132.44) scale(0.974,1.038)" font-size="79.0" style="">0.08</text>
<text transform="translate(161.50,245.24) scale(0.974,1.038)" font-size="79.0" style="">0.06</text>
<text transform="translate(158.96,364.04) scale(0.974,1.038)" font-size="79.0" style="">0.04</text>
<text transform="translate(160.48,480.34) scale(0.974,1.038)" font-size="79.0" style="">0.02</text>
<text transform="translate(252.06,597.62) scale(0.974,1.038)" font-size="79.0" style="">0</text>
<text transform="translate(172.43,714.49) scale(0.974,1.038)" font-size="79.0" style="">0.02</text>
<rect x="130.1" y="684.2" width="29.5" height="3.6" fill="#000"/>
<text transform="translate(171.66,832.19) scale(0.974,1.038)" font-size="79.0" style="">0.04</text>
<rect x="134.9" y="803.7" width="27.8" height="3.6" fill="#000"/>
<text transform="translate(171.35,950.49) scale(0.974,1.038)" font-size="79.0" style="">0.06</text>
<rect x="131.4" y="921.2" width="28.4" height="3.6" fill="#000"/>
<text transform="translate(172.52,1065.29) scale(0.974,1.038)" font-size="79.0" style="">0.08</text>
<rect x="133.0" y="1040.2" width="26.8" height="3.6" fill="#000"/>
<text transform="translate(305.31,1112.92) scale(0.974,1.038)" font-size="79.0" style="">0</text>
<text transform="translate(435.45,1112.74) scale(0.974,1.038)" font-size="79.0" style="">0.5</text>
<text transform="translate(635.19,1113.12) scale(0.974,1.038)" font-size="79.0" style="">1</text>
<text transform="translate(772.03,1112.54) scale(0.974,1.038)" font-size="79.0" style="">1.5</text>
<text transform="translate(971.60,1113.20) scale(0.974,1.038)" font-size="79.0" style="">2</text>
<text transform="translate(1106.52,1112.62) scale(0.974,1.038)" font-size="79.0" style="">2.5</text>
<text transform="translate(1305.28,1112.80) scale(0.974,1.038)" font-size="79.0" style="">3</text>
<text transform="translate(616.29,152.90) scale(0.9851,1.038)" font-size="79.0" style="">Target</text>
<text transform="translate(1057.49,107.25) scale(1.0157,1.038)" font-size="79.0" style="">PSA</text>
<text transform="translate(1044.73,198.55) scale(0.9909,1.038)" font-size="79.0" style="">APCSA</text>
<text x="779.30" y="1186.25" font-size="79.0" style="font-style:italic;">t</text>
<text x="821.92" y="1186.25" font-size="79.0" style="">(s)</text>
<text transform="translate(111.60,873.47) rotate(-90)" font-size="80.0">Displacement (m)</text>
</svg></div>
</body></html>
